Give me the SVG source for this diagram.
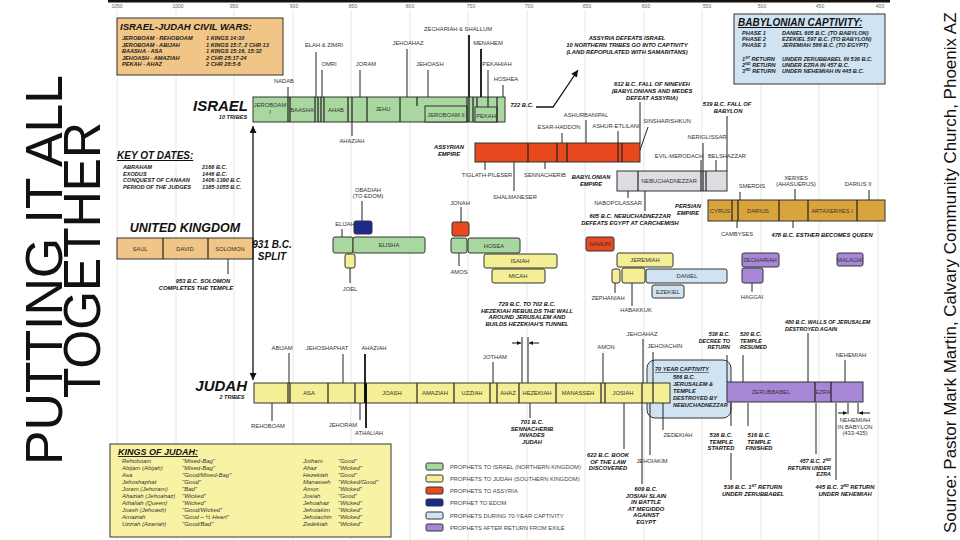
<svg xmlns="http://www.w3.org/2000/svg" width="960" height="540" viewBox="0 0 960 540">
<defs>
<marker id="ah" viewBox="0 0 8 8" refX="8" refY="4" markerUnits="userSpaceOnUse" markerWidth="7" markerHeight="7" orient="auto-start-reverse"><path d="M0,0 L8,4 L0,8 z" fill="#111"/></marker>
<marker id="ahs" viewBox="0 0 8 8" refX="8" refY="4" markerUnits="userSpaceOnUse" markerWidth="4" markerHeight="4" orient="auto-start-reverse"><path d="M0,0 L8,4 L0,8 z" fill="#111"/></marker>
</defs>
<style>
text{font-family:"Liberation Sans",Arial,sans-serif;}
.lb{font-size:5.8px;fill:#333;text-anchor:middle;}
.bx{font-size:5.8px;fill:#333;text-anchor:middle;}
.nt{font-size:5.8px;font-style:italic;font-weight:bold;fill:#111;text-anchor:middle;}
.ns{font-size:5.4px;font-style:italic;font-weight:bold;fill:#111;text-anchor:start;}
.ne{font-size:5.4px;font-style:italic;font-weight:bold;fill:#111;text-anchor:end;}
.yr{font-size:5px;fill:#666;text-anchor:middle;}
.hd{font-style:italic;font-weight:bold;fill:#111;}
.sm{font-size:5.6px;font-style:italic;font-weight:bold;fill:#222;}
.kj{font-size:6px;font-style:italic;fill:#333;}
.lg{font-size:5.8px;fill:#444;}
.grid{stroke:#e6e6e6;stroke-width:1;}
.c{stroke:#222;stroke-width:1;fill:none;}
.ct{stroke:#111;stroke-width:1.8;fill:none;}
.dv{stroke:#222;stroke-width:1.2;}
.gr{fill:#a9d7a0;stroke:#333;stroke-width:1;}
.ye{fill:#f4ee94;stroke:#333;stroke-width:1;}
.rd{fill:#e8491f;stroke:#333;stroke-width:1;}
.bl{fill:#1d2a8c;stroke:#333;stroke-width:1;}
.lb2{fill:#cfe3f3;stroke:#333;stroke-width:1;}
.pu{fill:#a886d6;stroke:#333;stroke-width:1;}
.tn{fill:#f0c585;stroke:#333;stroke-width:1;}
.au{fill:#d9a43c;stroke:#333;stroke-width:1;}
.gy{fill:#dfdde3;stroke:#333;stroke-width:1;}
</style>
<rect width="960" height="540" fill="#ffffff"/>

<g id="timeline">
<rect x="108" y="0" width="782" height="2.5" fill="#111"/>
<g class="grid">
<line x1="117" y1="10" x2="117" y2="540"/><line x1="176" y1="10" x2="176" y2="540"/><line x1="234" y1="10" x2="234" y2="540"/><line x1="293" y1="10" x2="293" y2="540"/><line x1="351" y1="10" x2="351" y2="540"/><line x1="410" y1="10" x2="410" y2="540"/><line x1="468" y1="10" x2="468" y2="540"/><line x1="527" y1="10" x2="527" y2="540"/><line x1="585" y1="10" x2="585" y2="540"/><line x1="644" y1="10" x2="644" y2="540"/><line x1="702" y1="10" x2="702" y2="540"/><line x1="761" y1="10" x2="761" y2="540"/><line x1="819" y1="10" x2="819" y2="540"/><line x1="878" y1="10" x2="878" y2="540"/>
</g>
<text class="yr" x="117" y="8">1050</text><text class="yr" x="178" y="8">1000</text><text class="yr" x="234" y="8">950</text><text class="yr" x="294" y="8">900</text><text class="yr" x="353" y="8">850</text><text class="yr" x="410" y="8">800</text><text class="yr" x="471" y="8">750</text><text class="yr" x="529" y="8">700</text><text class="yr" x="587" y="8">650</text><text class="yr" x="646" y="8">600</text><text class="yr" x="707" y="8">550</text><text class="yr" x="762" y="8">500</text><text class="yr" x="820" y="8">450</text><text class="yr" x="880" y="8">400</text>
</g>

<g id="title">
<text x="62" y="270" transform="rotate(-90 62 270)" text-anchor="middle" font-size="52" fill="#111" textLength="390" lengthAdjust="spacingAndGlyphs">PUTTING IT ALL</text>
<text x="100" y="260" transform="rotate(-90 100 260)" text-anchor="middle" font-size="52" fill="#111" textLength="276" lengthAdjust="spacingAndGlyphs">TOGETHER</text>
</g>
<g id="source">
<text x="956" y="533" transform="rotate(-90 956 533)" font-size="17" fill="#111">Source: Pastor Mark Martin, Calvary Community Church, Phoenix AZ</text>
</g>

<g id="civil-wars">
<rect x="117" y="18" width="166" height="57" class="tn"/>
<text x="120" y="30" class="hd" font-size="9.5">ISRAEL-JUDAH CIVIL WARS:</text>
<text class="sm" x="122" y="40">JEROBOAM - REHOBOAM</text><text class="sm" x="206" y="40">1 KINGS 14:30</text>
<text class="sm" x="122" y="46.5">JEROBOAM - ABIJAH</text><text class="sm" x="206" y="46.5">1 KINGS 15:7, 2 CHR 13</text>
<text class="sm" x="122" y="53">BAASHA - ASA</text><text class="sm" x="206" y="53">1 KINGS 15:16, 15:32</text>
<text class="sm" x="122" y="59.5">JEHOASH - AMAZIAH</text><text class="sm" x="206" y="59.5">2 CHR 25:17-24</text>
<text class="sm" x="122" y="66">PEKAH - AHAZ</text><text class="sm" x="206" y="66">2 CHR 28:5-6</text>
</g>

<g id="key-dates">
<text x="117" y="159" class="hd" font-size="10" text-decoration="underline">KEY OT DATES:</text>
<text class="sm" x="123" y="169">ABRAHAM</text><text class="sm" x="202" y="169">2166 B.C.</text>
<text class="sm" x="123" y="175.5">EXODUS</text><text class="sm" x="202" y="175.5">1446 B.C.</text>
<text class="sm" x="123" y="182">CONQUEST OF CANAAN</text><text class="sm" x="202" y="182">1406-1390 B.C.</text>
<text class="sm" x="123" y="188.5">PERIOD OF THE JUDGES</text><text class="sm" x="202" y="188.5">1385-1055 B.C.</text>
</g>

<g id="babylonian-captivity">
<rect x="734" y="14" width="151" height="70" class="lb2"/>
<text x="738" y="26" class="hd" font-size="10" text-decoration="underline">BABYLONIAN CAPTIVITY:</text>
<text class="sm" x="742" y="35">PHASE 1</text><text class="sm" x="782" y="35">DANIEL 605 B.C. (TO BABYLON)</text>
<text class="sm" x="742" y="41">PHASE 2</text><text class="sm" x="782" y="41">EZEKIEL 597 B.C. (TO BABYLON)</text>
<text class="sm" x="742" y="47">PHASE 3</text><text class="sm" x="782" y="47">JEREMIAH 586 B.C. (TO EGYPT)</text>
<text class="sm" x="742" y="61">1<tspan font-size="3.8" dy="-2">ST</tspan><tspan dy="2"> RETURN</tspan></text><text class="sm" x="782" y="61">UNDER ZERUBBABEL IN 536 B.C.</text>
<text class="sm" x="742" y="67">2<tspan font-size="3.8" dy="-2">ND</tspan><tspan dy="2"> RETURN</tspan></text><text class="sm" x="782" y="67">UNDER EZRA IN 457 B.C.</text>
<text class="sm" x="742" y="73">3<tspan font-size="3.8" dy="-2">RD</tspan><tspan dy="2"> RETURN</tspan></text><text class="sm" x="782" y="73">UNDER NEHEMIAH IN 445 B.C.</text>
</g>

<g id="israel">
<text x="248" y="111" class="hd" font-size="15" text-anchor="end">ISRAEL</text>
<text x="233" y="119" class="sm" text-anchor="middle">10 TRIBES</text>
<rect x="253" y="97" width="252" height="25" class="gr"/>
<rect x="425" y="106" width="42" height="16" class="gr"/>
<rect x="475" y="107" width="22" height="15" class="gr"/>
<g class="dv">
<line x1="288" y1="97" x2="288" y2="122"/><line x1="290" y1="97" x2="290" y2="122"/><line x1="315" y1="97" x2="315" y2="122"/><line x1="318" y1="97" x2="318" y2="122"/><line x1="321" y1="97" x2="321" y2="122"/><line x1="324" y1="97" x2="324" y2="122"/><line x1="348" y1="97" x2="348" y2="122"/><line x1="352" y1="97" x2="352" y2="122"/><line x1="367" y1="97" x2="367" y2="122"/><line x1="400" y1="97" x2="400" y2="122"/><line x1="417" y1="97" x2="417" y2="106"/><line x1="467" y1="97" x2="467" y2="122"/><line x1="469" y1="97" x2="469" y2="122"/><line x1="473" y1="97" x2="473" y2="122"/><line x1="477" y1="97" x2="477" y2="107"/><line x1="488" y1="97" x2="488" y2="107"/><line x1="497" y1="97" x2="497" y2="122"/>
</g>
<text class="bx" x="270" y="107">JEROBOAM</text><text class="bx" x="270" y="114">I</text>
<text class="bx" x="302" y="112">BAASHA</text>
<text class="bx" x="336" y="112">AHAB</text>
<text class="bx" x="383" y="111">JEHU</text>
<text class="bx" x="446" y="117">JEROBOAM II</text>
<text class="bx" x="486" y="118">PEKAH</text>
</g>

<g id="united-kingdom">
<text x="185" y="232" class="hd" font-size="12.5" text-anchor="middle">UNITED KINGDOM</text>
<rect x="117" y="238" width="136" height="21" class="tn"/>
<line x1="163" y1="238" x2="163" y2="259" class="dv"/><line x1="208" y1="238" x2="208" y2="259" class="dv"/>
<text class="bx" x="140" y="251">SAUL</text><text class="bx" x="185" y="251">DAVID</text><text class="bx" x="230" y="251">SOLOMON</text>
<text x="272" y="248" class="hd" font-size="10" text-anchor="middle">931 B.C.</text>
<text x="272" y="260" class="hd" font-size="10" text-anchor="middle">SPLIT</text>
<text class="nt" x="203" y="283">953 B.C. SOLOMON</text>
<text class="nt" x="196" y="290">COMPLETES THE TEMPLE</text>
</g>

<g id="assyria">
<text class="nt" x="449" y="149">ASSYRIAN</text><text class="nt" x="449" y="156">EMPIRE</text>
<rect x="475" y="143" width="165" height="19" class="rd"/>
<g class="dv"><line x1="528" y1="143" x2="528" y2="162"/><line x1="557" y1="143" x2="557" y2="162"/><line x1="567" y1="143" x2="567" y2="162"/><line x1="618" y1="143" x2="618" y2="162"/><line x1="622" y1="143" x2="622" y2="162"/></g>
</g>

<g id="babylon">
<text class="nt" x="591" y="179">BABYLONIAN</text><text class="nt" x="591" y="186">EMPIRE</text>
<rect x="617" y="171" width="110" height="20" class="gy"/>
<g class="dv"><line x1="638" y1="171" x2="638" y2="191"/><line x1="701" y1="171" x2="701" y2="191"/><line x1="703" y1="171" x2="703" y2="191"/><line x1="706" y1="171" x2="706" y2="191"/></g>
<text class="bx" x="669" y="183">NEBUCHADNEZZAR</text>
</g>

<g id="persia">
<text class="nt" x="688" y="208">PERSIAN</text><text class="nt" x="688" y="215">EMPIRE</text>
<rect x="708" y="200" width="177" height="21" class="au"/>
<g class="dv"><line x1="732" y1="200" x2="732" y2="221"/><line x1="738" y1="200" x2="738" y2="221"/><line x1="779" y1="200" x2="779" y2="221"/><line x1="808" y1="200" x2="808" y2="221"/><line x1="857" y1="200" x2="857" y2="221"/></g>
<text class="bx" x="720" y="213">CYRUS</text><text class="bx" x="758" y="213">DARIUS</text><text class="bx" x="832" y="213">ARTAXERXES I</text>
</g>

<g id="prophets">
<rect x="354" y="221" width="18" height="13" rx="2" class="bl"/>
<rect x="333" y="237" width="20" height="16" rx="2" class="gr"/>
<rect x="353" y="237" width="72" height="16" rx="2" class="gr"/><text class="bx" x="389" y="247">ELISHA</text>
<rect x="345" y="254" width="10" height="14" rx="2" class="ye"/>
<rect x="452" y="222" width="17" height="14" rx="2" class="rd"/>
<rect x="451" y="238" width="16" height="15" rx="2" class="gr"/>
<rect x="468" y="238" width="52" height="15" rx="2" class="gr"/><text class="bx" x="494" y="248">HOSEA</text>
<rect x="484" y="254" width="73" height="14" rx="2" class="ye"/><text class="bx" x="520" y="263">ISAIAH</text>
<rect x="492" y="269" width="53" height="14" rx="2" class="ye"/><text class="bx" x="518" y="278">MICAH</text>
<rect x="586" y="237" width="28" height="14" rx="2" class="rd"/><text class="bx" x="600" y="246" fill="#222">NAHUM</text>
<rect x="617" y="253" width="56" height="14" rx="2" class="ye"/><text class="bx" x="645" y="262">JEREMIAH</text>
<rect x="612" y="269" width="8" height="14" rx="2" class="ye"/>
<rect x="622" y="268" width="23" height="15" rx="2" class="ye"/>
<rect x="646" y="269" width="81" height="14" rx="2" class="lb2"/><text class="bx" x="687" y="278">DANIEL</text>
<rect x="652" y="285" width="32" height="13" rx="2" class="lb2"/><text class="bx" x="668" y="293.5">EZEKIEL</text>
<rect x="742" y="253" width="37" height="14" rx="2" class="pu"/><text class="bx" x="760" y="262">ZECHARIAH</text>
<rect x="742" y="268" width="21" height="15" rx="2" class="pu"/>
<rect x="837" y="253" width="26" height="13" rx="2" class="pu"/><text class="bx" x="850" y="262">MALACHI</text>
</g>

<g id="captivity-70">
<rect x="647" y="360" width="84" height="58" rx="8" class="lb2"/>
<text x="655" y="371" class="sm" font-size="6.4" text-decoration="underline">70 YEAR CAPTIVITY</text>
<text class="sm" x="673" y="379">586 B.C.</text>
<text class="sm" x="673" y="386">JERUSALEM &amp;</text>
<text class="sm" x="673" y="393">TEMPLE</text>
<text class="sm" x="673" y="400">DESTROYED BY</text>
<text class="sm" x="673" y="407">NEBUCHADNEZZAR</text>
</g>

<g id="judah">
<text x="247" y="391" class="hd" font-size="15" text-anchor="end">JUDAH</text>
<text x="232" y="399" class="sm" text-anchor="middle">2 TRIBES</text>
<rect x="254" y="383" width="416" height="20" class="ye"/>
<rect x="364" y="383" width="3" height="20" fill="#111"/>
<g class="dv">
<line x1="288" y1="383" x2="288" y2="403"/><line x1="290" y1="383" x2="290" y2="403"/><line x1="328" y1="383" x2="328" y2="403"/><line x1="355" y1="383" x2="355" y2="403"/><line x1="417" y1="383" x2="417" y2="403"/><line x1="454" y1="383" x2="454" y2="403"/><line x1="490" y1="383" x2="490" y2="403"/><line x1="497" y1="383" x2="497" y2="403"/><line x1="519" y1="383" x2="519" y2="403"/><line x1="556" y1="383" x2="556" y2="403"/><line x1="601" y1="383" x2="601" y2="403"/><line x1="605" y1="383" x2="605" y2="403"/><line x1="642" y1="383" x2="642" y2="403"/><line x1="653" y1="383" x2="653" y2="403"/>
</g>
<text class="bx" x="309" y="395">ASA</text><text class="bx" x="392" y="395">JOASH</text><text class="bx" x="435" y="395">AMAZIAH</text><text class="bx" x="472" y="395">UZZIAH</text><text class="bx" x="508" y="395">AHAZ</text><text class="bx" x="537" y="395">HEZEKIAH</text><text class="bx" x="578" y="395">MANASSEH</text><text class="bx" x="623" y="395">JOSIAH</text>
<rect x="727" y="382" width="136" height="20" class="pu"/>
<g class="dv"><line x1="815" y1="382" x2="815" y2="402"/><line x1="831" y1="382" x2="831" y2="402"/></g>
<text class="bx" x="771" y="394">ZERUBBABEL</text><text class="bx" x="823" y="394">EZRA</text>
</g>

<g id="connectors">
<g class="c">
<line x1="288" y1="87" x2="288" y2="97"/><line x1="316" y1="52" x2="316" y2="97"/><line x1="322" y1="70" x2="322" y2="97"/><line x1="360" y1="70" x2="360" y2="97"/><line x1="407" y1="49" x2="407" y2="97"/><line x1="428" y1="70" x2="428" y2="97"/><line x1="488" y1="70" x2="488" y2="97"/><line x1="503" y1="85" x2="503" y2="97"/><line x1="352" y1="122" x2="352" y2="136"/>
<line x1="228" y1="259" x2="228" y2="274"/>
<line x1="485" y1="162" x2="485" y2="170"/><line x1="514" y1="162" x2="514" y2="191"/><line x1="545" y1="162" x2="545" y2="169"/><line x1="562" y1="133" x2="562" y2="143"/><line x1="586" y1="120" x2="586" y2="143"/><line x1="618" y1="131" x2="618" y2="143"/><line x1="640" y1="102" x2="640" y2="143"/><line x1="640" y1="150" x2="648" y2="127"/>
<line x1="628" y1="191" x2="628" y2="198"/><line x1="645" y1="191" x2="645" y2="211"/><line x1="701" y1="160" x2="701" y2="171"/><line x1="703" y1="143" x2="703" y2="171"/><line x1="716" y1="160" x2="716" y2="171"/><line x1="727" y1="116" x2="727" y2="171"/>
<line x1="740" y1="192" x2="740" y2="200"/><line x1="795" y1="189" x2="795" y2="200"/><line x1="869" y1="190" x2="869" y2="200"/><line x1="737" y1="221" x2="737" y2="228"/><line x1="793" y1="221" x2="793" y2="228"/>
<line x1="362" y1="201" x2="362" y2="221"/><line x1="342" y1="229" x2="342" y2="237"/><line x1="350" y1="268" x2="350" y2="283"/><line x1="461" y1="207" x2="461" y2="222"/><line x1="459" y1="253" x2="459" y2="266"/><line x1="615" y1="283" x2="615" y2="293"/><line x1="632" y1="283" x2="632" y2="306"/><line x1="752" y1="283" x2="752" y2="292"/>
<line x1="289" y1="353" x2="289" y2="383"/><line x1="343" y1="354" x2="343" y2="383"/><line x1="493" y1="362" x2="493" y2="383"/><line x1="522" y1="337" x2="522" y2="383"/><line x1="528" y1="337" x2="528" y2="383"/><line x1="603" y1="353" x2="603" y2="383"/><line x1="643" y1="339" x2="643" y2="383"/><line x1="653" y1="352" x2="653" y2="383"/><line x1="727" y1="355" x2="727" y2="382"/><line x1="743" y1="355" x2="743" y2="382"/><line x1="808" y1="333" x2="808" y2="382"/><line x1="845" y1="360" x2="845" y2="382"/>
<line x1="272" y1="403" x2="272" y2="421"/><line x1="360" y1="403" x2="360" y2="420"/><line x1="530" y1="403" x2="530" y2="418"/><line x1="624" y1="403" x2="624" y2="449"/><line x1="642" y1="403" x2="642" y2="484"/><line x1="650" y1="403" x2="650" y2="455"/><line x1="663" y1="403" x2="663" y2="430"/><line x1="731" y1="403" x2="731" y2="426"/><line x1="748" y1="403" x2="748" y2="426"/><line x1="731" y1="453" x2="731" y2="480"/><line x1="816" y1="403" x2="816" y2="454"/><line x1="836" y1="403" x2="836" y2="480"/><line x1="848" y1="403" x2="848" y2="414"/><line x1="858" y1="403" x2="858" y2="414"/>
</g>
<g class="ct">
<line x1="469" y1="35" x2="469" y2="97"/><line x1="481" y1="49" x2="481" y2="97"/><line x1="365" y1="354" x2="365" y2="403"/><line x1="366" y1="403" x2="366" y2="428"/>
</g>
<line x1="253" y1="126" x2="253" y2="380" stroke="#111" stroke-width="1.3" marker-start="url(#ah)" marker-end="url(#ah)"/>
<polyline points="536,107 553,107 578,70" fill="none" stroke="#111" stroke-width="1.3" marker-end="url(#ah)"/>
<line x1="512" y1="343" x2="521" y2="343" stroke="#111" stroke-width="1" marker-end="url(#ahs)"/>
<line x1="539" y1="343" x2="529" y2="343" stroke="#111" stroke-width="1" marker-end="url(#ahs)"/>
<line x1="838" y1="413" x2="847" y2="413" stroke="#111" stroke-width="1" marker-end="url(#ahs)"/>
<line x1="870" y1="413" x2="859" y2="413" stroke="#111" stroke-width="1" marker-end="url(#ahs)"/>
</g>

<g id="labels">
<text class="lb" x="284" y="83">NADAB</text><text class="lb" x="324" y="47">ELAH &amp; ZIMRI</text><text class="lb" x="329" y="66">OMRI</text><text class="lb" x="366" y="66">JORAM</text><text class="lb" x="408" y="45">JEHOAHAZ</text><text class="lb" x="430" y="66">JEHOASH</text><text class="lb" x="458" y="31">ZECHARIAH &amp; SHALLUM</text><text class="lb" x="488" y="45">MENAHEM</text><text class="lb" x="497" y="66">PEKAHIAH</text><text class="lb" x="506" y="81">HOSHEA</text>
<text class="lb" x="352" y="143">AHAZIAH</text>
<text class="lb" x="487" y="177">TIGLATH-PILESER</text><text class="lb" x="515" y="199">SHALMANESER</text><text class="lb" x="545" y="177">SENNACHERIB</text><text class="lb" x="559" y="129">ESAR-HADDON</text><text class="lb" x="586" y="117">ASHURBANIPAL</text><text class="lb" x="616" y="128">ASHUR-ETLILANI</text><text class="lb" x="667" y="123">SINSHARISHKUN</text>
<text class="lb" x="618" y="205">NABOPOLASSAR</text><text class="lb" x="679" y="158">EVIL-MERODACH</text><text class="lb" x="707" y="139">NERIGLISSAR</text><text class="lb" x="727" y="158">BELSHAZZAR</text>
<text class="lb" x="752" y="188">SMERDIS</text><text class="lb" x="796" y="180">XERXES</text><text class="lb" x="796" y="186">(AHASUERUS)</text><text class="lb" x="858" y="186">DARIUS II</text><text class="lb" x="737" y="236">CAMBYSES</text>
<text class="lb" x="368" y="192">OBADIAH</text><text class="lb" x="368" y="198">(TO EDOM)</text><text class="lb" x="345" y="226">ELIJAH</text><text class="lb" x="350" y="291">JOEL</text><text class="lb" x="460" y="205">JONAH</text><text class="lb" x="459" y="274">AMOS</text><text class="lb" x="608" y="300">ZEPHANIAH</text><text class="lb" x="636" y="312">HABAKKUK</text><text class="lb" x="752" y="299">HAGGAI</text>
<text class="lb" x="282" y="350">ABIJAM</text><text class="lb" x="327" y="350">JEHOSHAPHAT</text><text class="lb" x="374" y="350">AHAZIAH</text><text class="lb" x="495" y="359">JOTHAM</text><text class="lb" x="606" y="349">AMON</text><text class="lb" x="642" y="336">JEHOAHAZ</text><text class="lb" x="665" y="348">JEHOIACHIN</text><text class="lb" x="851" y="357">NEHEMIAH</text>
<text class="lb" x="268" y="428">REHOBOAM</text><text class="lb" x="343" y="427">JEHORAM</text><text class="lb" x="369" y="435">ATHALIAH</text><text class="lb" x="678" y="437">ZEDEKIAH</text><text class="lb" x="652" y="463">JEHOIAKIM</text>
<text class="lb" x="855" y="422">NEHEMIAH</text><text class="lb" x="855" y="428.5">IN BABYLON</text><text class="lb" x="855" y="435">(433-425)</text>
</g>

<g id="notes">
<text class="nt" x="522" y="107">722 B.C.</text>
<text class="nt" x="627" y="40">ASSYRIA DEFEATS ISRAEL</text><text class="nt" x="627" y="47">10 NORTHERN TRIBES GO INTO CAPTIVITY</text><text class="nt" x="627" y="54">(LAND REPOPULATED WITH SAMARITANS)</text>
<text class="nt" x="652" y="86">612 B.C. FALL OF NINEVEH</text><text class="nt" x="652" y="93">(BABYLONIANS AND MEDES</text><text class="nt" x="652" y="100">DEFEAT ASSYRIA)</text>
<text class="nt" x="727" y="106">539 B.C. FALL OF</text><text class="nt" x="728" y="113">BABYLON</text>
<text class="nt" x="630" y="218">605 B.C. NEBUCHADNEZZAR</text><text class="nt" x="630" y="225">DEFEATS EGYPT AT CARCHEMISH</text>
<text class="nt" x="822" y="237">478 B.C. ESTHER BECOMES QUEEN</text>
<text class="nt" x="527" y="306">729 B.C. TO 702 B.C.</text><text class="nt" x="527" y="312.5">HEZEKIAH REBUILDS THE WALL</text><text class="nt" x="527" y="319">AROUND JERUSALEM AND</text><text class="nt" x="527" y="325.5">BUILDS HEZEKIAH'S TUNNEL</text>
<text class="ne" x="730" y="336">538 B.C.</text><text class="ne" x="730" y="342.5">DECREE TO</text><text class="ne" x="730" y="349">RETURN</text>
<text class="ns" x="740" y="336">520 B.C.</text><text class="ns" x="740" y="342.5">TEMPLE</text><text class="ns" x="740" y="349">RESUMED</text>
<text class="ns" x="785" y="324">480 B.C. WALLS OF JERUSALEM</text><text class="ns" x="785" y="330.5">DESTROYED AGAIN</text>
<text class="nt" x="532" y="424">701 B.C.</text><text class="nt" x="532" y="430.5">SENNACHERIB</text><text class="nt" x="532" y="437">INVADES</text><text class="nt" x="532" y="443.5">JUDAH</text>
<text class="nt" x="608" y="457">622 B.C. BOOK</text><text class="nt" x="608" y="463.5">OF THE LAW</text><text class="nt" x="608" y="470">DISCOVERED</text>
<text class="nt" x="646" y="491">609 B.C.</text><text class="nt" x="646" y="497.5">JOSIAH SLAIN</text><text class="nt" x="646" y="504">IN BATTLE</text><text class="nt" x="646" y="510.5">AT MEGIDDO</text><text class="nt" x="646" y="517">AGAINST</text><text class="nt" x="646" y="523.5">EGYPT</text>
<text class="nt" x="721" y="437">536 B.C.</text><text class="nt" x="721" y="443.5">TEMPLE</text><text class="nt" x="721" y="450">STARTED</text>
<text class="nt" x="759" y="437">516 B.C.</text><text class="nt" x="759" y="443.5">TEMPLE</text><text class="nt" x="759" y="450">FINISHED</text>
<text class="nt" x="753" y="489">536 B.C. 1<tspan font-size="3.8" dy="-2">ST</tspan><tspan dy="2"> RETURN</tspan></text><text class="nt" x="753" y="495.5">UNDER ZERUBBABEL</text>
<text class="ne" x="831" y="463">457 B.C. 2<tspan font-size="3.8" dy="-2">ND</tspan></text><text class="ne" x="831" y="469.5">RETURN UNDER</text><text class="ne" x="831" y="476">EZRA</text>
<text class="nt" x="845" y="489">445 B.C. 3<tspan font-size="3.8" dy="-2">RD</tspan><tspan dy="2"> RETURN</tspan></text><text class="nt" x="845" y="495.5">UNDER NEHEMIAH</text>
</g>

<g id="kings-of-judah">
<rect x="110" y="444" width="281" height="93" fill="#f8f3a4" stroke="#333" stroke-width="1"/>
<text x="118" y="455" class="hd" font-size="9" text-decoration="underline">KINGS OF JUDAH:</text>
<text class="kj" x="122" y="463">Rehoboam</text><text class="kj" x="182" y="463">"Mixed-Bag"</text><text class="kj" x="303" y="463">Jotham</text><text class="kj" x="338" y="463">"Good"</text>
<text class="kj" x="122" y="470">Abijam (Abijah)</text><text class="kj" x="182" y="470">"Mixed-Bag"</text><text class="kj" x="303" y="470">Ahaz</text><text class="kj" x="338" y="470">"Wicked"</text>
<text class="kj" x="122" y="477">Asa</text><text class="kj" x="182" y="477">"Good/Mixed-Bag"</text><text class="kj" x="303" y="477">Hezekiah</text><text class="kj" x="338" y="477">"Good"</text>
<text class="kj" x="122" y="484">Jehoshaphat</text><text class="kj" x="182" y="484">"Good"</text><text class="kj" x="303" y="484">Manasseh</text><text class="kj" x="338" y="484">"Wicked/Good"</text>
<text class="kj" x="122" y="491">Joram (Jehoram)</text><text class="kj" x="182" y="491">"Bad"</text><text class="kj" x="303" y="491">Amon</text><text class="kj" x="338" y="491">"Wicked"</text>
<text class="kj" x="122" y="498">Ahaziah (Jehoahaz)</text><text class="kj" x="182" y="498">"Wicked"</text><text class="kj" x="303" y="498">Josiah</text><text class="kj" x="338" y="498">"Good"</text>
<text class="kj" x="122" y="505">Athaliah (Queen)</text><text class="kj" x="182" y="505">"Wicked"</text><text class="kj" x="303" y="505">Jehoahaz</text><text class="kj" x="338" y="505">"Wicked"</text>
<text class="kj" x="122" y="512">Joash (Jehoash)</text><text class="kj" x="182" y="512">"Good/Wicked"</text><text class="kj" x="303" y="512">Jehoiakim</text><text class="kj" x="338" y="512">"Wicked"</text>
<text class="kj" x="122" y="519">Amaziah</text><text class="kj" x="182" y="519">"Good – ½ Heart"</text><text class="kj" x="303" y="519">Jehoiachin</text><text class="kj" x="338" y="519">"Wicked"</text>
<text class="kj" x="122" y="526">Uzziah (Azariah)</text><text class="kj" x="182" y="526">"Good/Bad"</text><text class="kj" x="303" y="526">Zedekiah</text><text class="kj" x="338" y="526">"Wicked"</text>
</g>

<g id="legend">
<rect x="426" y="463" width="17" height="7" rx="1.5" class="gr"/><text class="lg" x="450" y="469">PROPHETS TO ISRAEL (NORTHERN KINGDOM)</text>
<rect x="426" y="475" width="17" height="7" rx="1.5" class="ye"/><text class="lg" x="450" y="481">PROPHETS TO JUDAH (SOUTHERN KINGDOM)</text>
<rect x="426" y="487" width="17" height="7" rx="1.5" class="rd"/><text class="lg" x="450" y="493">PROPHETS TO ASSYRIA</text>
<rect x="426" y="499" width="17" height="7" rx="1.5" class="bl"/><text class="lg" x="450" y="505">PROPHET TO EDOM</text>
<rect x="426" y="512" width="17" height="7" rx="1.5" class="lb2"/><text class="lg" x="450" y="518">PROPHETS DURING 70-YEAR CAPTIVITY</text>
<rect x="426" y="524" width="17" height="7" rx="1.5" class="pu"/><text class="lg" x="450" y="530">PROPHETS AFTER RETURN FROM EXILE</text>
</g>
</svg>
